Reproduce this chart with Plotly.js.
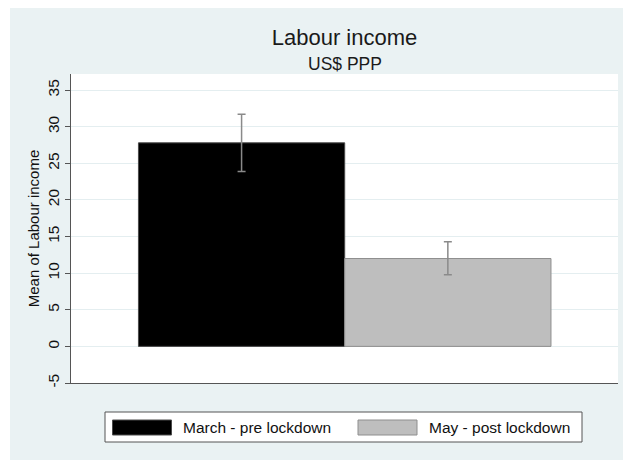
<!DOCTYPE html>
<html>
<head>
<meta charset="utf-8">
<script src="https://cdn.plot.ly/plotly-3.0.1.min.js"></script>
<style>html,body{margin:0;padding:0;background:#fff}#chart{width:625px;height:460px}</style>
</head>
<body>
<div id="chart"></div>
<script>
// ---- data ----
const categories = ["March - pre lockdown", "May - post lockdown"];
const means = [27.8, 12.0];
const ciUpper = [31.7, 14.3];
const ciLower = [23.9, 9.8];
const yTickVals = [-5, 0, 5, 10, 15, 20, 25, 30, 35];
const yTickText = ["-5", "0", "5", "10", "15", "20", "25", "30", "35"];
const chartTitle = "Labour income";
const chartSubtitle = "US$ PPP";
const yTitle = "Mean of Labour income";

// ---- styling ----
const FONT = "Liberation Sans, Arial, sans-serif";
const fills = ["#000000", "#bebebe"];
const outlines = ["#4a4a4a", "#8e8e8e"];
const W = 625, H = 460;
const M = {l: 71, r: 7, t: 74, b: 77};
const pw = W - M.l - M.r, ph = H - M.t - M.b;
const px = x => (x - M.l) / pw;
const py = y => (H - M.b - y) / ph;

const traces = categories.map((c, i) => ({
  type: "bar",
  x: [c],
  y: [means[i]],
  width: 1,
  name: c,
  marker: {color: fills[i], line: {color: outlines[i], width: 1}},
  error_y: {
    type: "data", symmetric: false,
    array: [ciUpper[i] - means[i]],
    arrayminus: [means[i] - ciLower[i]],
    color: "#8a8a8a", thickness: 1.5, width: 4
  },
  showlegend: false,
  hoverinfo: "skip"
}));

// manual legend (wide swatches as in the reference)
const shapes = [
  // white outer edges
  {type: "rect", xref: "paper", yref: "paper", x0: px(0), x1: px(W), y0: py(0), y1: py(8), fillcolor: "#fff", line: {width: 0}, layer: "below"},
  {type: "rect", xref: "paper", yref: "paper", x0: px(0), x1: px(10), y0: py(0), y1: py(H), fillcolor: "#fff", line: {width: 0}, layer: "below"},
  {type: "rect", xref: "paper", yref: "paper", x0: px(623), x1: px(W), y0: py(0), y1: py(H), fillcolor: "#fff", line: {width: 0}, layer: "below"},
  // legend box
  {type: "rect", xref: "paper", yref: "paper", x0: px(105), x1: px(582), y0: py(412), y1: py(442), fillcolor: "#fff", line: {color: "#555", width: 1}}
];
const swX = [[112.5, 171.5], [358, 417]];
const txX = [181, 427];
const annotations = [
  {xref: "paper", yref: "paper", x: 0.5, y: py(63.5), xanchor: "center", yanchor: "middle",
   text: chartSubtitle, showarrow: false, font: {family: FONT, size: 17.5, color: "#1a1a1a"}}
];
categories.forEach((c, i) => {
  shapes.push({type: "rect", xref: "paper", yref: "paper", x0: px(swX[i][0]), x1: px(swX[i][1]), y0: py(420), y1: py(435),
    fillcolor: fills[i], line: {color: outlines[i], width: 1}});
  annotations.push({xref: "paper", yref: "paper", x: px(txX[i]), y: py(427.5), xanchor: "left", yanchor: "middle",
    text: c, showarrow: false, font: {family: FONT, size: 15.5, color: "#111"}});
});

const layout = {
  width: W, height: H,
  margin: M,
  paper_bgcolor: "#eaf2f3",
  plot_bgcolor: "#ffffff",
  font: {family: FONT, color: "#111"},
  title: {
    text: chartTitle,
    font: {family: FONT, size: 22, color: "#1a1a1a"},
    x: 0.5, xref: "paper", xanchor: "center",
    y: 1 - 37 / H, yref: "container", yanchor: "middle"
  },
  barmode: "overlay",
  xaxis: {
    type: "category",
    range: [-0.827, 1.825],
    showticklabels: false, ticks: "",
    showgrid: false, zeroline: false,
    showline: true, linecolor: "#555", linewidth: 1,
    fixedrange: true
  },
  yaxis: {
    range: [-5, 37.2],
    tickvals: yTickVals,
    ticktext: yTickText,
    ticks: "outside", ticklen: 5, tickcolor: "#555", tickwidth: 1,
    tickangle: -90,
    tickfont: {family: FONT, size: 15.5, color: "#111"},
    showgrid: true, gridcolor: "#e4eef0", gridwidth: 1,
    zeroline: false,
    showline: true, linecolor: "#555", linewidth: 1,
    title: {text: yTitle, font: {family: FONT, size: 15, color: "#111"}, standoff: 1},
    automargin: false,
    fixedrange: true
  },
  shapes: shapes,
  annotations: annotations,
  showlegend: false
};

Plotly.newPlot("chart", traces, layout, {displayModeBar: false, staticPlot: true});
</script>
</body>
</html>
